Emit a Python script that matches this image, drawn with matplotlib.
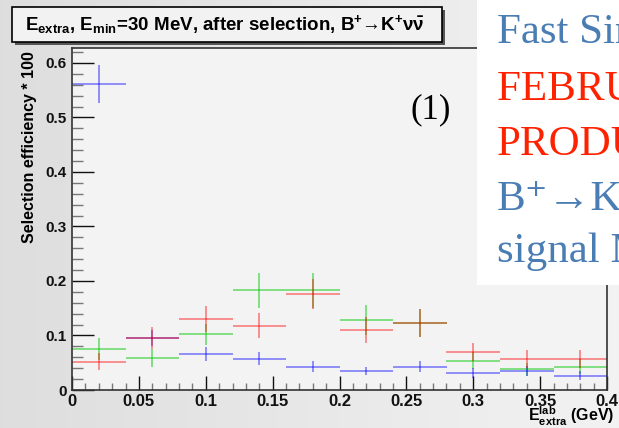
import matplotlib
matplotlib.use("Agg")
import matplotlib.pyplot as plt
import numpy as np
from matplotlib.patches import Rectangle
from matplotlib.ticker import MultipleLocator, FixedFormatter, FixedLocator

# ---- data ----
bin_centers = [0.02, 0.06, 0.10, 0.14, 0.18, 0.22, 0.26, 0.30, 0.34, 0.38]
bin_half_width = 0.02
blue = [0.561, 0.096, 0.066, 0.057, 0.043, 0.035, 0.043, 0.031, 0.035, 0.026]
blue_err = [0.035, 0.015, 0.012, 0.012, 0.010, 0.008, 0.010, 0.009, 0.009, 0.008]
red = [0.052, 0.096, 0.131, 0.118, 0.176, 0.110, 0.123, 0.070, 0.057, 0.057]
red_err = [0.015, 0.020, 0.024, 0.023, 0.028, 0.024, 0.025, 0.017, 0.016, 0.016]
green = [0.075, 0.059, 0.102, 0.183, 0.183, 0.128, 0.123, 0.054, 0.038, 0.043]
green_err = [0.020, 0.017, 0.020, 0.032, 0.032, 0.028, 0.025, 0.015, 0.012, 0.013]
x_ticks = [0, 0.05, 0.1, 0.15, 0.2, 0.25, 0.3, 0.35, 0.4]
x_tick_labels = ["0", "0.05", "0.1", "0.15", "0.2", "0.25", "0.3", "0.35", "0.4"]
y_ticks = [0, 0.1, 0.2, 0.3, 0.4, 0.5, 0.6]
y_tick_labels = ["0", "0.1", "0.2", "0.3", "0.4", "0.5", "0.6"]

plt.rcParams['font.family'] = ['Liberation Sans', 'DejaVu Sans']
plt.rcParams['mathtext.fontset'] = 'custom'
plt.rcParams['mathtext.rm'] = 'Liberation Sans:bold'
plt.rcParams['mathtext.it'] = 'Liberation Sans:bold'
plt.rcParams['mathtext.bf'] = 'Liberation Sans:bold'

W, H = 619, 428
fig = plt.figure(figsize=(W / 100, H / 100), dpi=100)
fig.patch.set_facecolor('#ececec')

# background gradient
bg = fig.add_axes([0, 0, 1, 1], zorder=-10)
grad = np.linspace(0.87, 0.95, 256).reshape(1, -1)
bg.imshow(np.dstack([grad, grad, grad]), aspect='auto', extent=[0, 1, 0, 1])
bg.set_axis_off()

def fx(px):
    return px / W

def fy(py):
    return 1 - py / H

ax = fig.add_axes([fx(72), fy(390), fx(607) - fx(72), fy(48) - fy(390)])
ax.set_facecolor('#f3f3f3')

series = [
    (green, green_err, '#00c800', 0.5),
    (blue, blue_err, '#0000ff', 0.45),
    (red, red_err, '#ff0000', 0.45),
]
for vals, errs, col, a in series:
    ax.errorbar(bin_centers, vals, xerr=bin_half_width, yerr=errs, fmt='none',
                ecolor=col, elinewidth=1.3, alpha=a, capsize=0)

ax.set_xlim(0, 0.4)
ax.set_ylim(0, 0.6275)
ax.xaxis.set_major_locator(FixedLocator(x_ticks))
ax.xaxis.set_major_formatter(FixedFormatter(x_tick_labels))
ax.yaxis.set_major_locator(FixedLocator(y_ticks))
ax.yaxis.set_major_formatter(FixedFormatter(y_tick_labels))
ax.xaxis.set_minor_locator(MultipleLocator(0.01))
ax.yaxis.set_minor_locator(MultipleLocator(0.02))
ax.tick_params(axis='both', which='both', direction='in', top=False, right=False,
               colors='#111111')
ax.tick_params(axis='y', which='major', length=16, width=1.0, pad=4, labelsize=11)
ax.tick_params(axis='y', which='minor', length=8, width=1.0, color='#777777')
ax.tick_params(axis='x', which='major', length=10, width=1.0, pad=3, labelsize=12)
ax.tick_params(axis='x', which='minor', length=5, width=1.0, color='#777777')
for lbl in ax.get_xticklabels() + ax.get_yticklabels():
    lbl.set_fontweight('bold')
for s in ax.spines.values():
    s.set_color('#333333')
    s.set_linewidth(1.2)

ax.set_ylabel('Selection efficiency * 100', fontsize=11.5, fontweight='bold', loc='top')
ax.yaxis.set_label_coords(-0.066, 0.99)

fig.text(fx(614), fy(421), r'E$_{\mathrm{extra}}^{\mathrm{lab}}$ (GeV)', ha='right', va='baseline',
         fontsize=11.5, fontweight='bold')

# title box with shadow
fig.patches.append(Rectangle((fx(15), fy(45)), fx(442) - fx(12), fy(7) - fy(42),
                             transform=fig.transFigure, facecolor='#555555',
                             edgecolor='none', zorder=5))
fig.patches.append(Rectangle((fx(12), fy(42)), fx(442) - fx(12), fy(7) - fy(42),
                             transform=fig.transFigure, facecolor='#f2f2f2',
                             edgecolor='black', linewidth=1.2, zorder=6))
fig.text(fx(225), fy(25),
         r'E$_{\mathrm{extra}}$, E$_{\mathrm{min}}$=30 MeV, after selection, B$^{+}$→K$^{+}$$\nu\bar{\nu}$',
         ha='center', va='center', fontsize=13.5, fontweight='bold', zorder=7)

# overlay annotation box (slide text)
fig.patches.append(Rectangle((fx(477), fy(285)), 1 - fx(477), fy(0) - fy(285),
                             transform=fig.transFigure, facecolor='white',
                             edgecolor='none', zorder=8))
serif = ['Liberation Serif', 'DejaVu Serif']
lines = [
    ('Fast Simulation', '#4a7db3', 43),
    ('FEBRUARY 2009', '#ff2200', 100),
    ('PRODUCTION', '#ff2200', 155),
    ('B\u207a\u2192K\u207a\u03bd\u03bd\u0304', '#4a7db3', 210),
    ('signal MC', '#4a7db3', 262),
]
for txt, col, base in lines:
    fig.text(fx(497), fy(base), txt, color=col, fontsize=31, family=serif,
             ha='left', va='baseline', zorder=9)

fig.text(fx(410), fy(118), '(1)', fontsize=25, family=serif, color='black',
         ha='left', va='baseline', zorder=9)

fig.savefig('out.png', dpi=100, facecolor=fig.get_facecolor())
